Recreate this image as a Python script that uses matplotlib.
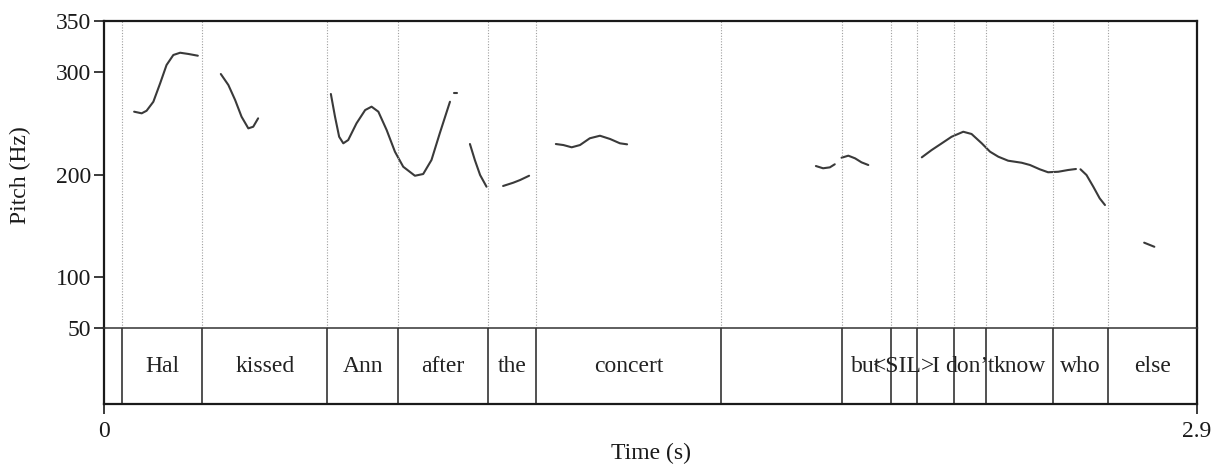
import numpy as np
import matplotlib
matplotlib.use("Agg")
import matplotlib.pyplot as plt

plt.rcParams["font.family"] = ["Liberation Serif", "DejaVu Serif"]
plt.rcParams["font.size"] = 17

# Word tier: interval boundaries (s) and labels
bounds = [0.0, 0.047, 0.261, 0.593, 0.779, 1.020, 1.147, 1.636,
          1.957, 2.087, 2.158, 2.255, 2.340, 2.519, 2.663, 2.9]
words = ["", "Hal", "kissed", "Ann", "after", "the", "concert", "",
         "but", "<SIL>", "I", "don\u2019t", "know", "who", "else"]

# Pitch contour, one (time, Hz) run per voiced stretch
hal_t = [0.080, 0.100, 0.113, 0.131, 0.149, 0.166, 0.184, 0.202, 0.224, 0.249]
hal_f = [261.4, 259.8, 262.3, 271.1, 289.1, 307.0, 316.8, 319.0, 317.8, 316.1]

kissed_t = [0.310, 0.330, 0.348, 0.365, 0.383, 0.396, 0.409]
kissed_f = [298.2, 287.5, 272.8, 256.5, 245.1, 246.7, 254.9]

ann_t = [0.602, 0.613, 0.624, 0.635, 0.648, 0.670, 0.693, 0.710, 0.728,
         0.750, 0.772, 0.794, 0.825, 0.847, 0.869, 0.891, 0.918]
ann_f = [278.7, 256.5, 236.9, 230.5, 233.7, 250.0, 263.0, 266.3, 261.4,
         243.5, 222.3, 207.6, 198.8, 200.5, 214.2, 240.3, 271.1]

blip_t = [0.929, 0.937]
blip_f = [279.9, 279.9]

after_t = [0.971, 0.984, 0.998, 1.015]
after_f = [229.8, 214.2, 199.5, 188.1]

the_t = [1.059, 1.086, 1.104, 1.128]
the_f = [188.8, 192.0, 194.6, 198.8]

concert_t = [1.199, 1.219, 1.241, 1.263, 1.289, 1.316, 1.343, 1.369, 1.388]
concert_f = [229.8, 228.8, 226.6, 228.8, 235.4, 237.9, 234.7, 230.5, 229.5]

pre_t = [1.889, 1.908, 1.926, 1.939]
pre_f = [208.3, 206.1, 207.0, 210.0]

but_t = [1.957, 1.975, 1.993, 2.010, 2.028]
but_f = [216.4, 218.4, 215.8, 211.9, 209.3]

know_t = [2.170, 2.196, 2.223, 2.249, 2.280, 2.302, 2.329, 2.351, 2.373,
          2.399, 2.435, 2.457, 2.483, 2.505, 2.532, 2.558, 2.579]
know_f = [216.8, 223.9, 230.5, 236.9, 241.8, 239.6, 230.5, 222.3, 217.4,
          213.5, 211.5, 209.3, 205.1, 202.2, 202.7, 204.4, 205.4]

who_t = [2.591, 2.607, 2.625, 2.642, 2.656]
who_f = [205.1, 199.5, 188.1, 176.7, 170.2]

else_t = [2.760, 2.787]
else_f = [133.4, 129.4]

runs = [(hal_t, hal_f), (kissed_t, kissed_f), (ann_t, ann_f), (blip_t, blip_f),
        (after_t, after_f), (the_t, the_f), (concert_t, concert_f),
        (pre_t, pre_f), (but_t, but_f), (know_t, know_f), (who_t, who_f),
        (else_t, else_f)]

ink = "#1a1a1a"
curve = "#3a3a3a"

fig = plt.figure(figsize=(12.19, 4.67), dpi=100)
ax = fig.add_axes([0.0853, 0.2976, 0.8966, 0.6574])
tier = fig.add_axes([0.0853, 0.1349, 0.8966, 0.1627], sharex=ax)
tier.patch.set_visible(False)

# pitch panel
for t, f in runs:
    ax.plot(t, f, color=curve, lw=1.5, solid_capstyle="round",
            solid_joinstyle="round")
for b in bounds[1:-1]:
    ax.axvline(b, color="#a0a0a0", lw=0.8, ls=(0, (1, 1.5)))

ax.set_xlim(0, 2.9)
ax.set_ylim(50, 350)
ax.set_yticks([50, 100, 200, 300, 350])
ax.tick_params(axis="y", direction="out", length=7, width=1.2, pad=2,
               colors=ink, labelsize=17)
ax.tick_params(axis="x", bottom=False, labelbottom=False)
for side in ["left", "top", "right"]:
    ax.spines[side].set_linewidth(1.6)
    ax.spines[side].set_color(ink)
ax.spines["bottom"].set_visible(False)

# word tier
for b in bounds[1:-1]:
    tier.axvline(b, color="#222222", lw=1.1)
for i, w in enumerate(words):
    if w:
        mid = (bounds[i] + bounds[i + 1]) / 2
        tier.text(mid, 0.5, w, ha="center", va="center", color="#222222",
                  fontsize=17, transform=tier.get_xaxis_transform())
tier.set_ylim(0, 1)
tier.set_yticks([])
tier.set_xticks([0, 2.9])
tier.set_xticklabels(["0", "2.9"])
tier.tick_params(axis="x", direction="out", length=7, width=1.2, pad=5,
                 colors=ink, labelsize=17)
tier.spines["top"].set_linewidth(1.1)
tier.spines["top"].set_color("#333333")
for side in ["left", "bottom", "right"]:
    tier.spines[side].set_linewidth(1.6)
    tier.spines[side].set_color(ink)

fig.text(20 / 1219, 0.626, "Pitch (Hz)", rotation=90, ha="center",
         va="center", color=ink, fontsize=17)
fig.text(0.5337, 0.029, "Time (s)", ha="center", va="center",
         color=ink, fontsize=17)

fig.savefig("out.png", dpi=100)
